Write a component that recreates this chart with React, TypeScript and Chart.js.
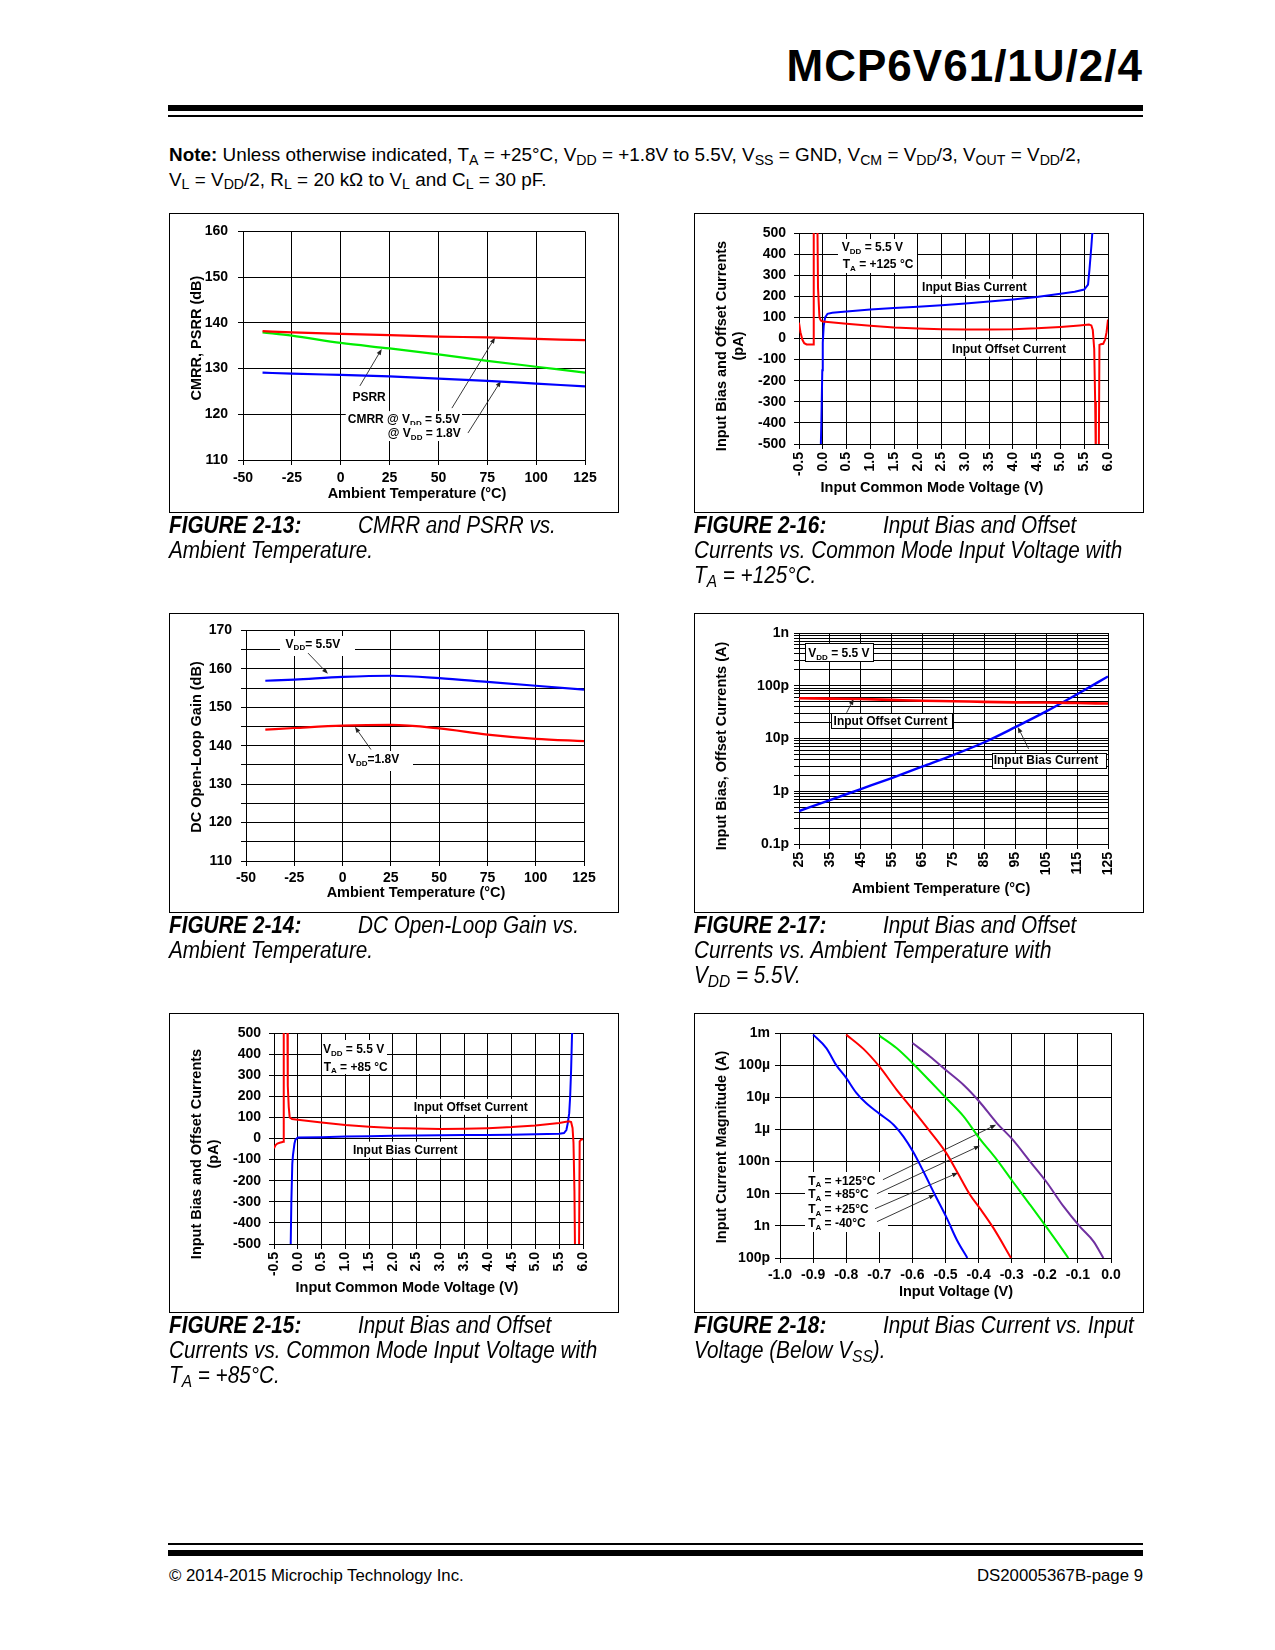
import React, { useEffect, useRef } from 'react';
import { Chart, registerables } from 'chart.js';

Chart.register(...registerables);

const FONT = '"Liberation Sans", Arial, Helvetica, sans-serif';

// ===================== DATA =====================
// Figure 2-13: CMRR and PSRR vs. Ambient Temperature
const fig13Temp = [-40, -25, 0, 25, 50, 75, 100, 125];
const fig13CmrrVdd55 = [138.2, 137.9, 137.6, 137.3, 137.0, 136.8, 136.5, 136.2];
const fig13Psrr = [137.9, 137.2, 135.6, 134.4, 133.1, 131.7, 130.4, 129.1];
const fig13CmrrVdd18 = [129.1, 128.9, 128.6, 128.3, 127.8, 127.3, 126.7, 126.1];
const fig13XTicks = [-50, -25, 0, 25, 50, 75, 100, 125];
const fig13YTicks = [110, 120, 130, 140, 150, 160];

// Figure 2-14: DC Open-Loop Gain vs. Ambient Temperature
const fig14Temp = [-40, -25, 0, 25, 50, 75, 100, 125];
const fig14GainVdd55 = [156.9, 157.2, 157.9, 158.2, 157.6, 156.6, 155.6, 154.6];
const fig14GainVdd18 = [144.2, 144.6, 145.2, 145.4, 144.5, 142.9, 141.8, 141.2];
const fig14XTicks = [-50, -25, 0, 25, 50, 75, 100, 125];
const fig14YTicks = [110, 115, 120, 125, 130, 135, 140, 145, 150, 155, 160, 165, 170];
const fig14YLabelled = [110, 120, 130, 140, 150, 160, 170];

// Figure 2-15: Input bias / offset currents vs. VCM, TA = +85 C (pA)
const fig15OffsetV = [-0.5, -0.47, -0.43, -0.38, -0.32, -0.3, -0.295, -0.22, -0.21, -0.19, -0.17, -0.12, 0.0, 0.5, 1.0, 1.5, 2.0, 2.5, 3.0, 3.5, 4.0, 4.5, 5.0, 5.5, 5.7, 5.75, 5.78, 5.8, 5.82, 5.835, 5.915, 5.93, 5.96, 6.0];
const fig15OffsetI = [-46, -32, -24, -20, -17, -15, 600, 600, 250, 150, 100, 92, 89, 76, 64, 56, 50, 47, 45, 46, 49, 54, 62, 73, 82, 78, 50, -20, -250, -600, -600, -14, -5, -3];
const fig15BiasV = [-0.155, -0.135, -0.115, -0.1, -0.07, -0.05, 0.0, 0.5, 1.0, 1.5, 2.0, 2.5, 3.0, 3.5, 4.0, 4.5, 5.0, 5.5, 5.6, 5.65, 5.68, 5.71, 5.73, 5.75, 5.77, 5.78];
const fig15BiasI = [-600, -300, -120, -77, -25, -6, 5, 6, 9, 11, 13, 14, 15, 16, 17, 18, 20, 23, 26, 40, 73, 120, 200, 326, 500, 600];

// Figure 2-16: Input bias / offset currents vs. VCM, TA = +125 C (pA)
const fig16OffsetV = [-0.5, -0.47, -0.43, -0.39, -0.34, -0.2, -0.19, -0.115, -0.1, -0.07, -0.04, 0.0, 0.5, 1.0, 1.5, 2.0, 2.5, 3.0, 3.5, 4.0, 4.5, 5.0, 5.4, 5.6, 5.65, 5.68, 5.71, 5.73, 5.745, 5.805, 5.82, 5.85, 5.9, 5.94, 5.97, 6.0];
const fig16OffsetI = [75, 30, -5, -22, -28, -28, 600, 600, 240, 100, 85, 80, 70, 60, 52, 47, 44, 43, 43, 44, 48, 55, 62, 66, 62, 40, -50, -300, -600, -600, -30, -27, -25, -5, 30, 90];
const fig16BiasV = [-0.05, -0.03, -0.01, 0.0, 0.02, 0.05, 0.1, 0.2, 0.5, 1.0, 1.5, 2.0, 2.5, 3.0, 3.5, 4.0, 4.5, 5.0, 5.3, 5.5, 5.58, 5.61, 5.65, 5.67, 5.68];
const fig16BiasI = [-600, -400, -150, -20, 60, 100, 117, 122, 128, 137, 144, 151, 158, 166, 175, 185, 197, 212, 222, 232, 255, 326, 437, 500, 600];

const vcmXTicks = [-0.5, 0, 0.5, 1, 1.5, 2, 2.5, 3, 3.5, 4, 4.5, 5, 5.5, 6];
const vcmYTicks = [-500, -400, -300, -200, -100, 0, 100, 200, 300, 400, 500];

// Figure 2-17: Input bias / offset currents vs. temperature (A)
const fig17Temp = [25, 35, 45, 55, 65, 75, 85, 95, 105, 115, 125];
const fig17BiasA = [4.2e-13, 6.8e-13, 1.1e-12, 1.78e-12, 2.95e-12, 4.9e-12, 8.5e-12, 1.64e-11, 3.26e-11, 6.9e-11, 1.5e-10];
const fig17OffsetA = [5.8e-11, 5.7e-11, 5.6e-11, 5.4e-11, 5.2e-11, 5.1e-11, 4.95e-11, 4.85e-11, 4.8e-11, 4.7e-11, 4.6e-11];
const fig17XTicks = [25, 35, 45, 55, 65, 75, 85, 95, 105, 115, 125];
const fig17YDecades = [1e-13, 1e-12, 1e-11, 1e-10, 1e-9];
const fig17YLabels = ['0.1p', '1p', '10p', '100p', '1n'];

// Figure 2-18: Input bias current vs. input voltage (below VSS)
const fig18VMinus40 = [-0.9, -0.86, -0.83, -0.8, -0.77, -0.74, -0.7, -0.657, -0.627, -0.597, -0.567, -0.532, -0.496, -0.466, -0.434];
const fig18IMinus40 = [8.9e-4, 3.4e-4, 1.0e-4, 4.0e-5, 1.4e-5, 6.6e-6, 3.1e-6, 1.4e-6, 6.0e-7, 1.95e-7, 5.0e-8, 9.3e-9, 1.74e-9, 3.7e-10, 1.0e-10];
const fig18VPlus25 = [-0.8, -0.748, -0.7, -0.648, -0.6, -0.547, -0.498, -0.463, -0.426, -0.396, -0.355, -0.302];
const fig18IPlus25 = [8.9e-4, 3.2e-4, 9.1e-5, 1.74e-5, 4.3e-6, 8.7e-7, 1.86e-7, 4.4e-8, 9.3e-9, 3.5e-9, 8.5e-10, 1.0e-10];
const fig18VPlus85 = [-0.7, -0.648, -0.6, -0.547, -0.498, -0.446, -0.398, -0.345, -0.297, -0.245, -0.196, -0.164, -0.129];
const fig18IPlus85 = [8.3e-4, 3.4e-4, 1.17e-4, 3.2e-5, 9.5e-6, 2.6e-6, 5.4e-7, 1.15e-7, 2.4e-8, 4.6e-9, 9.5e-10, 3.3e-10, 1.0e-10];
const fig18VPlus125 = [-0.6, -0.547, -0.498, -0.446, -0.398, -0.345, -0.297, -0.245, -0.196, -0.144, -0.094, -0.053, -0.023];
const fig18IPlus125 = [4.9e-4, 1.86e-4, 6.9e-5, 2.45e-5, 7.4e-6, 1.58e-6, 4.8e-7, 1.02e-7, 2.4e-8, 4.1e-9, 9.5e-10, 3.3e-10, 1.0e-10];
const fig18XTicks = [-1.0, -0.9, -0.8, -0.7, -0.6, -0.5, -0.4, -0.3, -0.2, -0.1, 0.0];
const fig18YDecades = [1e-10, 1e-9, 1e-8, 1e-7, 1e-6, 1e-5, 1e-4, 1e-3];
const fig18YLabels = ['100p', '1n', '10n', '100n', '1\u00b5', '10\u00b5', '100\u00b5', '1m'];

// ===================== HELPERS =====================
const RED = '#ff0000';
const BLUE = '#0000ff';
const GREEN = '#00ee00';
const PURPLE = '#7030a0';
const BOX_W = 450;
const BOX_H = 300;

const pts = (xs: number[], ys: number[]) => xs.map((x, i) => ({ x, y: ys[i] }));
const fmt1 = (v: number) => (Math.abs(v) < 1e-9 ? '0.0' : v.toFixed(1));
const fmtInt = (v: number) => String(Math.round(v));
const logLabel = (decades: number[], labels: string[]) => (v: number) => {
  const i = decades.findIndex((d) => Math.abs(Math.log10(d) - Math.log10(v)) < 1e-6);
  return i >= 0 ? labels[i] : '';
};
const minorLogGrid = (decades: number[]) =>
  decades.slice(0, -1).flatMap((d) => [1, 2, 3, 4, 5, 6, 7, 8, 9].map((k) => k * d)).concat([decades[decades.length - 1]]);

type Seg = { s: string; sub?: boolean };
type Ann =
  | { kind: 'text'; x: number; y: number; text: string; bg?: boolean }
  | { kind: 'rect'; x1: number; y1: number; x2: number; y2: number; border?: boolean }
  | { kind: 'arrow'; x1: number; y1: number; x2: number; y2: number };

function parseSegs(str: string): Seg[] {
  const out: Seg[] = [];
  const re = /_\{([^}]*)\}/g;
  let last = 0;
  let m: RegExpExecArray | null;
  while ((m = re.exec(str))) {
    if (m.index > last) out.push({ s: str.slice(last, m.index) });
    out.push({ s: m[1], sub: true });
    last = re.lastIndex;
  }
  if (last < str.length) out.push({ s: str.slice(last) });
  return out;
}

function annPlugin(anns: Ann[]) {
  return {
    id: 'figAnnotations',
    beforeDatasetsDraw(chart: any) {
      const ctx = chart.ctx as CanvasRenderingContext2D;
      const X = (v: number) => chart.scales.x.getPixelForValue(v);
      const Y = (v: number) => chart.scales.y.getPixelForValue(v);
      const mainF = `bold 12px ${FONT}`;
      const subF = `bold 8px ${FONT}`;
      ctx.save();
      for (const a of anns) {
        if (a.kind !== 'rect') continue;
        const x1 = X(a.x1), x2 = X(a.x2), y1 = Y(a.y1), y2 = Y(a.y2);
        const l = Math.round(Math.min(x1, x2)), t = Math.round(Math.min(y1, y2));
        const w = Math.round(Math.abs(x2 - x1)), h = Math.round(Math.abs(y2 - y1));
        ctx.fillStyle = '#fff';
        ctx.fillRect(l, t, w, h);
        if (a.border) {
          ctx.strokeStyle = '#000';
          ctx.lineWidth = 1;
          ctx.strokeRect(l + 0.5, t + 0.5, w, h);
        }
      }
      for (const a of anns) {
        if (a.kind !== 'text') continue;
        const segs = parseSegs(a.text);
        let w = 0;
        for (const sg of segs) {
          ctx.font = sg.sub ? subF : mainF;
          w += ctx.measureText(sg.s).width;
        }
        const x0 = X(a.x);
        const cy = Y(a.y);
        if (a.bg) {
          ctx.fillStyle = '#fff';
          ctx.fillRect(x0 - 2, cy - 8, w + 4, 16);
        }
        ctx.fillStyle = '#000';
        ctx.textBaseline = 'alphabetic';
        ctx.textAlign = 'left';
        let x = x0;
        const base = cy + 4.3;
        for (const sg of segs) {
          ctx.font = sg.sub ? subF : mainF;
          ctx.fillText(sg.s, x, sg.sub ? base + 2.5 : base);
          x += ctx.measureText(sg.s).width;
        }
      }
      for (const a of anns) {
        if (a.kind !== 'arrow') continue;
        const x1 = X(a.x1), y1 = Y(a.y1), x2 = X(a.x2), y2 = Y(a.y2);
        const ang = Math.atan2(y2 - y1, x2 - x1);
        const L = 6, Wd = 2.3;
        const c = Math.cos(ang), s = Math.sin(ang);
        ctx.strokeStyle = '#222';
        ctx.lineWidth = 0.9;
        ctx.beginPath();
        ctx.moveTo(x1, y1);
        ctx.lineTo(x2 - L * c, y2 - L * s);
        ctx.stroke();
        ctx.fillStyle = '#222';
        ctx.beginPath();
        ctx.moveTo(x2, y2);
        ctx.lineTo(x2 - L * c + Wd * s, y2 - L * s - Wd * c);
        ctx.lineTo(x2 - L * c - Wd * s, y2 - L * s + Wd * c);
        ctx.closePath();
        ctx.fill();
      }
      ctx.restore();
    },
  };
}

type Spec = {
  box: { x: number; y: number };
  plot: { l: number; t: number; r: number; b: number };
  xType: 'linear' | 'logarithmic';
  yType: 'linear' | 'logarithmic';
  xMin: number; xMax: number; yMin: number; yMax: number;
  xTicks: number[]; yTicks: number[];
  xLabel: (v: number) => string; yLabel: (v: number) => string;
  xRot: number;
  xTitle: string; yTitle: string[];
  xTitlePos: [number, number]; // page centre of x-axis title
  yTitlePos: [number, number]; // page centre of first y-axis title line
  yLabelGap: number; xLabelGap: number;
  datasets: any[];
  anns: Ann[];
};

const TITLE_SIZE = 14.5;

// Axis titles drawn at their place on the page (as in the datasheet, not centred on the plot)
function axisTitlePlugin(s: Spec) {
  return {
    id: 'axisTitles',
    afterDraw(chart: any) {
      const ctx = chart.ctx as CanvasRenderingContext2D;
      ctx.save();
      ctx.font = `bold ${TITLE_SIZE}px ${FONT}`;
      ctx.fillStyle = '#000';
      ctx.textAlign = 'center';
      ctx.textBaseline = 'middle';
      ctx.fillText(s.xTitle, s.xTitlePos[0] - s.box.x, s.xTitlePos[1] - s.box.y);
      const lh = TITLE_SIZE * 1.2;
      s.yTitle.forEach((t, i) => {
        ctx.save();
        ctx.translate(s.yTitlePos[0] - s.box.x + i * lh, s.yTitlePos[1] - s.box.y);
        ctx.rotate(-Math.PI / 2);
        ctx.fillText(t, 0, 0);
        ctx.restore();
      });
      ctx.restore();
    },
  };
}

function buildConfig(s: Spec) {
  const yW = s.plot.l - s.box.x;
  const xH = s.box.y + BOX_H - s.plot.b;
  const tl = 5;
  const tickSize = 14;
  const tickFont = { family: FONT, size: tickSize, weight: 'bold' as const };
  const grid = { color: '#000', lineWidth: 1, tickLength: tl, tickColor: '#000', drawTicks: true };
  const border = { color: '#000', width: 1 };
  return {
    type: 'line',
    data: { datasets: s.datasets },
    options: {
      responsive: false,
      maintainAspectRatio: false,
      animation: false,
      devicePixelRatio: 1,
      events: [],
      layout: { padding: { top: s.plot.t - s.box.y, right: s.box.x + BOX_W - s.plot.r, left: 0, bottom: 0 } },
      plugins: { legend: { display: false }, tooltip: { enabled: false }, title: { display: false } },
      elements: { point: { radius: 0 } },
      scales: {
        x: {
          type: s.xType,
          min: s.xMin,
          max: s.xMax,
          afterBuildTicks: (sc: any) => { sc.ticks = s.xTicks.map((v) => ({ value: v })); },
          afterFit: (sc: any) => { sc.height = xH; },
          ticks: {
            autoSkip: false,
            maxRotation: s.xRot,
            minRotation: s.xRot,
            padding: s.xRot ? s.xLabelGap - tl : s.xLabelGap - tl - (tickSize * 1.2) / 2,
            font: tickFont,
            color: '#000',
            callback: (v: any) => s.xLabel(Number(v)),
          },
          grid,
          border,
          title: { display: false },
        },
        y: {
          type: s.yType,
          min: s.yMin,
          max: s.yMax,
          afterBuildTicks: (sc: any) => { sc.ticks = s.yTicks.map((v) => ({ value: v })); },
          afterFit: (sc: any) => { sc.width = yW; },
          ticks: {
            autoSkip: false,
            padding: s.yLabelGap - tl,
            font: tickFont,
            color: '#000',
            callback: (v: any) => s.yLabel(Number(v)),
          },
          grid,
          border,
          title: { display: false },
        },
      },
    },
    plugins: [annPlugin(s.anns), axisTitlePlugin(s)],
  };
}

const line = (data: any[], color: string, smooth: boolean, width = 2) => ({
  data,
  borderColor: color,
  backgroundColor: color,
  borderWidth: width,
  pointRadius: 0,
  fill: false,
  tension: 0,
  ...(smooth ? { cubicInterpolationMode: 'monotone' } : {}),
});

// ===================== CHART SPECS =====================
const spec13: Spec = {
  box: { x: 169, y: 213 },
  plot: { l: 243, t: 231, r: 585, b: 460 },
  xType: 'linear', yType: 'linear',
  xMin: -50, xMax: 125, yMin: 110, yMax: 160,
  xTicks: fig13XTicks, yTicks: fig13YTicks,
  xLabel: fmtInt, yLabel: fmtInt,
  xRot: 0,
  xTitle: 'Ambient Temperature (\u00b0C)', yTitle: ['CMRR, PSRR (dB)'],
  xTitlePos: [417, 494], yTitlePos: [197, 338],
  yLabelGap: 15, xLabelGap: 18,
  datasets: [
    line(pts(fig13Temp, fig13CmrrVdd55), RED, true, 2.2),
    line(pts(fig13Temp, fig13Psrr), GREEN, true, 2.2),
    line(pts(fig13Temp, fig13CmrrVdd18), BLUE, true, 2.2),
  ],
  anns: [
    { kind: 'text', x: 6.0, y: 123.8, text: 'PSRR', bg: true },
    { kind: 'text', x: 3.6, y: 118.95, text: 'CMRR @ V_{DD} = 5.5V', bg: true },
    { kind: 'text', x: 24.1, y: 115.9, text: '@ V_{DD} = 1.8V', bg: true },
    { kind: 'arrow', x1: 9.8, y1: 126.2, x2: 21, y2: 134.3 },
    { kind: 'arrow', x1: 56.9, y1: 121.35, x2: 79, y2: 136.8 },
    { kind: 'arrow', x1: 65.1, y1: 115.9, x2: 82, y2: 127.3 },
  ],
};

const spec16: Spec = {
  box: { x: 694, y: 213 },
  plot: { l: 799, t: 233, r: 1108, b: 444 },
  xType: 'linear', yType: 'linear',
  xMin: -0.5, xMax: 6, yMin: -500, yMax: 500,
  xTicks: vcmXTicks, yTicks: vcmYTicks,
  xLabel: fmt1, yLabel: fmtInt,
  xRot: 90,
  xTitle: 'Input Common Mode Voltage (V)', yTitle: ['Input Bias and Offset Currents', '(pA)'],
  xTitlePos: [932, 488], yTitlePos: [722, 346],
  yLabelGap: 13, xLabelGap: 8,
  datasets: [
    line(pts(fig16OffsetV, fig16OffsetI), RED, false),
    line(pts(fig16BiasV, fig16BiasI), BLUE, false),
  ],
  anns: [
    { kind: 'rect', x1: 0.32, y1: 473, x2: 1.98, y2: 312 },
    { kind: 'text', x: 0.40, y: 435, text: 'V_{DD} = 5.5 V' },
    { kind: 'text', x: 0.42, y: 354, text: 'T_{A} = +125 \u00b0C' },
    { kind: 'text', x: 2.09, y: 245, text: 'Input Bias Current', bg: true },
    { kind: 'text', x: 2.72, y: -48, text: 'Input Offset Current', bg: true },
  ],
};

const spec14: Spec = {
  box: { x: 169, y: 613 },
  plot: { l: 246, t: 629, r: 584, b: 861 },
  xType: 'linear', yType: 'linear',
  xMin: -50, xMax: 125, yMin: 110, yMax: 170,
  xTicks: fig14XTicks, yTicks: fig14YTicks,
  xLabel: fmtInt, yLabel: (v: number) => (fig14YLabelled.includes(Math.round(v)) ? String(Math.round(v)) : ''),
  xRot: 0,
  xTitle: 'Ambient Temperature (\u00b0C)', yTitle: ['DC Open-Loop Gain (dB)'],
  xTitlePos: [416, 893], yTitlePos: [197, 747],
  yLabelGap: 14, xLabelGap: 17,
  datasets: [
    line(pts(fig14Temp, fig14GainVdd55), BLUE, true, 2.2),
    line(pts(fig14Temp, fig14GainVdd18), RED, true, 2.2),
  ],
  anns: [
    { kind: 'rect', x1: -32.6, y1: 168.5, x2: 6.4, y2: 163.2 },
    { kind: 'text', x: -29.5, y: 166.6, text: 'V_{DD}= 5.5V' },
    { kind: 'arrow', x1: -17.9, y1: 164.1, x2: -7.6, y2: 158.7 },
    { kind: 'rect', x1: 0.3, y1: 138.7, x2: 36.5, y2: 133.6 },
    { kind: 'text', x: 2.8, y: 136.6, text: 'V_{DD}=1.8V' },
    { kind: 'arrow', x1: 14.7, y1: 139, x2: 6.4, y2: 144.9 },
  ],
};

const spec17: Spec = {
  box: { x: 694, y: 613 },
  plot: { l: 799, t: 633, r: 1108, b: 844 },
  xType: 'linear', yType: 'logarithmic',
  xMin: 25, xMax: 125, yMin: 1e-13, yMax: 1e-9,
  xTicks: fig17XTicks, yTicks: minorLogGrid(fig17YDecades),
  xLabel: fmtInt, yLabel: logLabel(fig17YDecades, fig17YLabels),
  xRot: 90,
  xTitle: 'Ambient Temperature (\u00b0C)', yTitle: ['Input Bias, Offset Currents (A)'],
  xTitlePos: [941, 889], yTitlePos: [722, 746],
  yLabelGap: 10, xLabelGap: 8,
  datasets: [
    line(pts(fig17Temp, fig17OffsetA), RED, true, 2.6),
    line(pts(fig17Temp, fig17BiasA), BLUE, true, 2.4),
  ],
  anns: [
    { kind: 'rect', x1: 26.8, y1: 6.46e-10, x2: 48.9, y2: 2.89e-10, border: true },
    { kind: 'text', x: 28.0, y: 4.23e-10, text: 'V_{DD} = 5.5 V' },
    { kind: 'rect', x1: 35.5, y1: 3.03e-11, x2: 74.8, y2: 1.57e-11, border: true },
    { kind: 'text', x: 36.2, y: 2.19e-11, text: 'Input Offset Current' },
    { kind: 'rect', x1: 87.3, y1: 5.4e-12, x2: 124.3, y2: 2.86e-12, border: true },
    { kind: 'text', x: 88.0, y: 3.93e-12, text: 'Input Bias Current' },
    { kind: 'arrow', x1: 40.4, y1: 3.07e-11, x2: 42.7, y2: 5.66e-11 },
    { kind: 'arrow', x1: 99.3, y1: 6.37e-12, x2: 95.8, y2: 1.66e-11 },
  ],
};

const spec15: Spec = {
  box: { x: 169, y: 1013 },
  plot: { l: 274, t: 1033, r: 583, b: 1244 },
  xType: 'linear', yType: 'linear',
  xMin: -0.5, xMax: 6, yMin: -500, yMax: 500,
  xTicks: vcmXTicks, yTicks: vcmYTicks,
  xLabel: fmt1, yLabel: fmtInt,
  xRot: 90,
  xTitle: 'Input Common Mode Voltage (V)', yTitle: ['Input Bias and Offset Currents', '(pA)'],
  xTitlePos: [407, 1288], yTitlePos: [197, 1154],
  yLabelGap: 13, xLabelGap: 8,
  datasets: [
    line(pts(fig15OffsetV, fig15OffsetI), RED, false),
    line(pts(fig15BiasV, fig15BiasI), BLUE, false),
  ],
  anns: [
    { kind: 'rect', x1: 0.51, y1: 465, x2: 1.885, y2: 302 },
    { kind: 'text', x: 0.53, y: 424, text: 'V_{DD} = 5.5 V' },
    { kind: 'text', x: 0.545, y: 342, text: 'T_{A} = +85 \u00b0C' },
    { kind: 'text', x: 2.44, y: 150, text: 'Input Offset Current', bg: true },
    { kind: 'text', x: 1.16, y: -53, text: 'Input Bias Current', bg: true },
  ],
};

const spec18: Spec = {
  box: { x: 694, y: 1013 },
  plot: { l: 780, t: 1033, r: 1111, b: 1258 },
  xType: 'linear', yType: 'logarithmic',
  xMin: -1, xMax: 0, yMin: 1e-10, yMax: 1e-3,
  xTicks: fig18XTicks, yTicks: fig18YDecades,
  xLabel: fmt1, yLabel: logLabel(fig18YDecades, fig18YLabels),
  xRot: 0,
  xTitle: 'Input Voltage (V)', yTitle: ['Input Current Magnitude (A)'],
  xTitlePos: [956, 1292], yTitlePos: [722, 1147],
  yLabelGap: 10, xLabelGap: 17,
  datasets: [
    line(pts(fig18VMinus40, fig18IMinus40), BLUE, true),
    line(pts(fig18VPlus25, fig18IPlus25), RED, true),
    line(pts(fig18VPlus85, fig18IPlus85), GREEN, true),
    line(pts(fig18VPlus125, fig18IPlus125), PURPLE, true),
  ],
  anns: [
    { kind: 'rect', x1: -0.925, y1: 4.8e-8, x2: -0.675, y2: 6.6e-10 },
    { kind: 'text', x: -0.915, y: 2.6e-8, text: 'T_{A} = +125\u00b0C' },
    { kind: 'text', x: -0.915, y: 9.8e-9, text: 'T_{A} = +85\u00b0C' },
    { kind: 'text', x: -0.915, y: 3.34e-9, text: 'T_{A} = +25\u00b0C' },
    { kind: 'text', x: -0.915, y: 1.22e-9, text: 'T_{A} = -40\u00b0C' },
    { kind: 'arrow', x1: -0.689, y1: 2.73e-8, x2: -0.347, y2: 1.4e-6 },
    { kind: 'arrow', x1: -0.707, y1: 1.0e-8, x2: -0.396, y2: 3.11e-7 },
    { kind: 'arrow', x1: -0.713, y1: 3.41e-9, x2: -0.462, y2: 4.5e-8 },
    { kind: 'arrow', x1: -0.707, y1: 1.35e-9, x2: -0.532, y2: 9.3e-9 },
  ],
};

// ===================== COMPONENTS =====================
function FigureChart({ spec }: { spec: Spec }) {
  const ref = useRef<HTMLCanvasElement | null>(null);
  useEffect(() => {
    if (!ref.current) return;
    const chart = new Chart(ref.current, buildConfig(spec) as any);
    return () => chart.destroy();
  }, [spec]);
  return (
    <>
      <canvas
        ref={ref}
        width={BOX_W}
        height={BOX_H}
        style={{ position: 'absolute', left: spec.box.x, top: spec.box.y, width: BOX_W, height: BOX_H }}
      />
      <div
        style={{
          position: 'absolute', left: spec.box.x, top: spec.box.y, width: BOX_W, height: BOX_H,
          border: '1px solid #000', boxSizing: 'border-box', pointerEvents: 'none',
        }}
      />
    </>
  );
}

function Sub({ children }: { children: React.ReactNode }) {
  return <span style={{ fontSize: '0.75em', position: 'relative', top: '0.25em', lineHeight: 0 }}>{children}</span>;
}

// Text placed by its baseline (line-height 1, Liberation Sans ascent 0.905 / descent 0.212)
function Txt({ x, right, base, size, style, children }: { x?: number; right?: number; base: number; size: number; style?: React.CSSProperties; children: React.ReactNode }) {
  const top = base - 0.8465 * size;
  return (
    <div
      style={{
        position: 'absolute', top, left: x, right, fontSize: size, lineHeight: 1,
        whiteSpace: 'nowrap', fontFamily: FONT, ...style,
      }}
    >
      {children}
    </div>
  );
}

const CAP_SIZE = 23;
const capStyle: React.CSSProperties = { fontStyle: 'italic', transform: 'scaleX(0.9)', transformOrigin: 'left top' };

function Caption({ x, base, fig, lines }: { x: number; base: number; fig: string; lines: React.ReactNode[] }) {
  return (
    <>
      <Txt x={x} base={base} size={CAP_SIZE} style={{ ...capStyle, fontWeight: 'bold' }}>{fig}</Txt>
      <Txt x={x + 189} base={base} size={CAP_SIZE} style={capStyle}>{lines[0]}</Txt>
      {lines.slice(1).map((l, i) => (
        <Txt key={i} x={x} base={base + 25 * (i + 1)} size={CAP_SIZE} style={capStyle}>{l}</Txt>
      ))}
    </>
  );
}

export default function App() {
  return (
    <div
      style={{
        position: 'absolute', left: 0, top: 0, width: 1275, height: 1650, background: '#fff',
        color: '#000', fontFamily: FONT, overflow: 'hidden',
      }}
    >
      {/* Header */}
      <Txt right={133} base={81} size={44} style={{ fontWeight: 'bold', letterSpacing: '1px', marginRight: -1 }}>
        MCP6V61/1U/2/4
      </Txt>
      <div style={{ position: 'absolute', left: 168, top: 105, width: 975, height: 6, background: '#000' }} />
      <div style={{ position: 'absolute', left: 168, top: 115, width: 975, height: 2, background: '#000' }} />

      <Txt x={169} base={162.3} size={18.9}>
        <b>Note:</b> Unless otherwise indicated, T<Sub>A</Sub> = +25°C, V<Sub>DD</Sub> = +1.8V to 5.5V, V<Sub>SS</Sub> = GND,
        V<Sub>CM</Sub> = V<Sub>DD</Sub>/3, V<Sub>OUT</Sub> = V<Sub>DD</Sub>/2,
      </Txt>
      <Txt x={169} base={186.7} size={18.9}>
        V<Sub>L</Sub> = V<Sub>DD</Sub>/2, R<Sub>L</Sub> = 20 kΩ to V<Sub>L</Sub> and C<Sub>L</Sub> = 30 pF.
      </Txt>

      {/* Charts */}
      <FigureChart spec={spec13} />
      <FigureChart spec={spec16} />
      <FigureChart spec={spec14} />
      <FigureChart spec={spec17} />
      <FigureChart spec={spec15} />
      <FigureChart spec={spec18} />

      {/* Captions */}
      <Caption x={169} base={533} fig="FIGURE 2-13:" lines={['CMRR and PSRR vs.', 'Ambient Temperature.']} />
      <Caption
        x={694} base={533} fig="FIGURE 2-16:"
        lines={['Input Bias and Offset', 'Currents vs. Common Mode Input Voltage with', <>T<Sub>A</Sub> = +125°C.</>]}
      />
      <Caption x={169} base={933} fig="FIGURE 2-14:" lines={['DC Open-Loop Gain vs.', 'Ambient Temperature.']} />
      <Caption
        x={694} base={933} fig="FIGURE 2-17:"
        lines={['Input Bias and Offset', 'Currents vs. Ambient Temperature with', <>V<Sub>DD</Sub> = 5.5V.</>]}
      />
      <Caption
        x={169} base={1333} fig="FIGURE 2-15:"
        lines={['Input Bias and Offset', 'Currents vs. Common Mode Input Voltage with', <>T<Sub>A</Sub> = +85°C.</>]}
      />
      <Caption
        x={694} base={1333} fig="FIGURE 2-18:"
        lines={['Input Bias Current vs. Input', <>Voltage (Below V<Sub>SS</Sub>).</>]}
      />

      {/* Footer */}
      <div style={{ position: 'absolute', left: 168, top: 1543, width: 975, height: 2, background: '#000' }} />
      <div style={{ position: 'absolute', left: 168, top: 1550, width: 975, height: 6, background: '#000' }} />
      <Txt x={169} base={1582} size={16.8}>© 2014-2015 Microchip Technology Inc.</Txt>
      <Txt right={132} base={1582} size={16.8}>DS20005367B-page 9</Txt>
    </div>
  );
}
